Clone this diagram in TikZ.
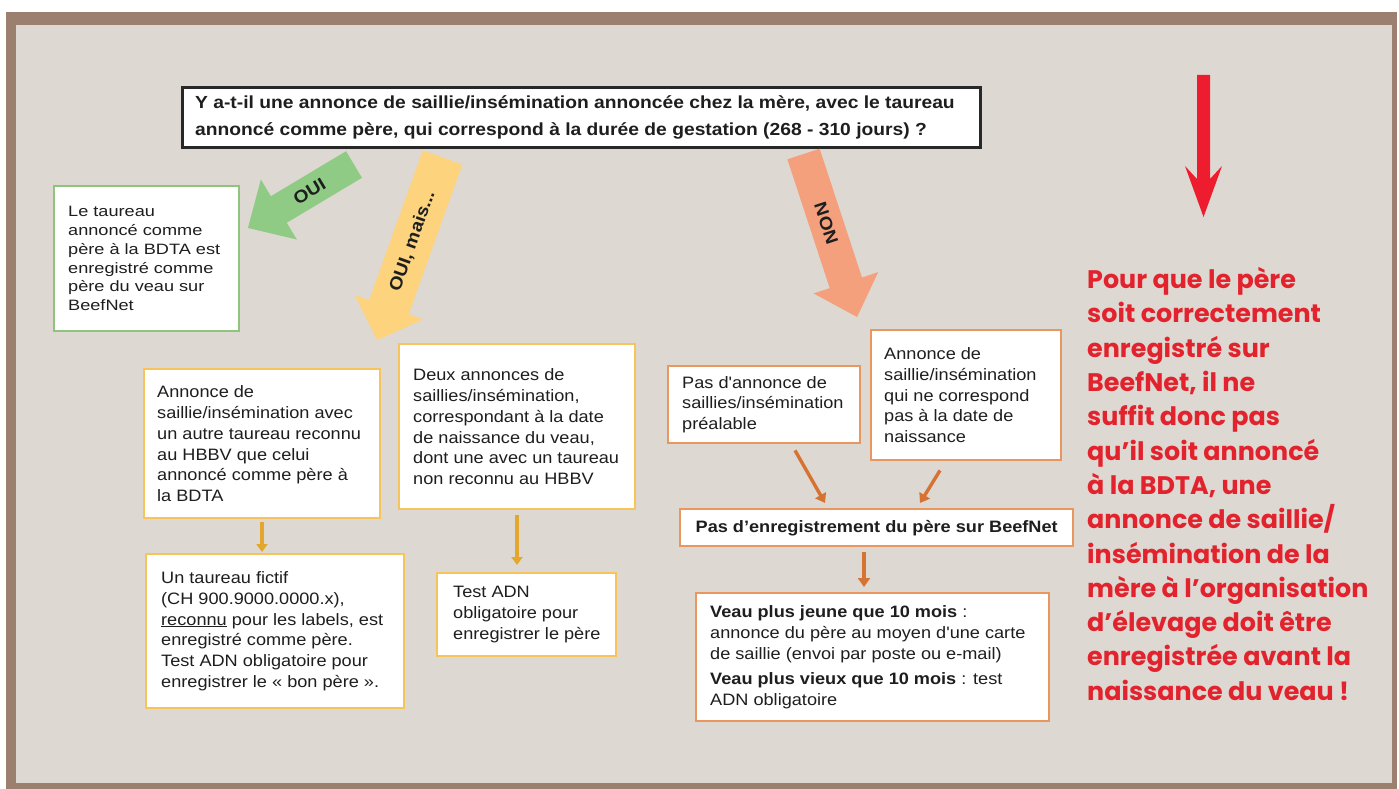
\documentclass[tikz,border=0pt]{standalone}
\usepackage{fontspec}
\usetikzlibrary{arrows.meta,calc}
\setmainfont{Liberation Sans}
\newfontfamily\ffbody[FakeStretch=1.1]{Liberation Sans}
\newfontfamily\ffgreen[FakeStretch=1.21]{Liberation Sans}
\newfontfamily\ffred{Poppins}
\definecolor{framebrown}{RGB}{155,128,111}
\definecolor{bgbeige}{RGB}{222,216,210}
\definecolor{gfill}{RGB}{143,203,133}
\definecolor{gborder}{RGB}{143,196,125}
\definecolor{yfill}{RGB}{253,211,125}
\definecolor{yborder}{RGB}{247,196,92}
\definecolor{yarrow}{RGB}{226,167,44}
\definecolor{sfill}{RGB}{245,160,125}
\definecolor{oborder}{RGB}{233,150,95}
\definecolor{oarrow}{RGB}{214,115,50}
\definecolor{redarrow}{RGB}{237,28,46}
\definecolor{redtext}{RGB}{226,35,45}
\definecolor{qborder}{RGB}{40,40,40}
\definecolor{txt}{RGB}{30,30,30}
\tikzset{
  bx/.style={rectangle, draw, fill=white, line width=2.4pt, anchor=north west, inner sep=0pt},
  gbx/.style={bx, draw=gborder},
  ybx/.style={bx, draw=yborder},
  obx/.style={bx, draw=oborder},
  btext/.style={anchor=west, inner sep=0pt, align=left, text=txt,
    font=\ffbody\fontsize{16.5}{20.8}\selectfont},
  gtext/.style={btext, font=\ffgreen\fontsize{15}{18.8}\selectfont},
  yarr/.style={draw=yarrow, line width=3.2pt, -{Triangle[width=11pt,length=8pt]}},
  oarr/.style={draw=oarrow, line width=3.4pt, -{Triangle[width=12pt,length=9pt]}},
  alabel/.style={font=\ffbody\bfseries\fontsize{17.5}{19}\selectfont, text=txt, transform shape, inner sep=0pt},
}
% block arrow in local frame: length L, shaft width w, head width hw, head length hl
\newcommand\blockarrowshape[4]{(0,-#2/2) -- (#1-#4,-#2/2) -- (#1-#4,-#3/2) -- (#1,0) -- (#1-#4,#3/2) -- (#1-#4,#2/2) -- (0,#2/2) -- cycle}
\begin{document}
\begin{tikzpicture}[x=1pt,y=-1pt]
\useasboundingbox (0,0) rectangle (1399,789);
\fill[white] (0,0) rectangle (1399,789);
\fill[framebrown] (6,12) rectangle (1397,789);
\fill[bgbeige] (16,25) rectangle (1392,783);

% question box
\node[bx, draw=qborder, line width=2.6pt, minimum width=798pt, minimum height=60pt] (q) at (181,86) {};
\node[btext, font=\ffbody\bfseries\fontsize{17.5}{27}\selectfont] (qt) at ($(q.west)+(14,0)$)
  {Y a-t-il une annonce de saillie/insémination annoncée chez la mère, avec le taureau\\
   annoncé comme père, qui correspond à la durée de gestation (268 - 310 jours) ?};

% big block arrows
\begin{scope}[shift={(354,164.5)}, rotate=-149.1]
  \fill[gfill] \blockarrowshape{123.6}{31}{70}{36};
  \node[alabel, rotate=180] (lOui) at (52,0) {OUI};
\end{scope}
\begin{scope}[shift={(442.5,157.5)}, rotate=-109.7]
  \fill[yfill] \blockarrowshape{193.9}{42}{73}{35};
  \node[alabel, rotate=180] (lOuiMais) at (89,0) {OUI, mais...};
\end{scope}
\begin{scope}[shift={(803.5,154)}, rotate=-71.8]
  \fill[sfill] \blockarrowshape{171.6}{34}{68}{36};
  \node[alabel] (lNon) at (73,0) {NON};
\end{scope}

% green result
\node[gbx, minimum width=185pt, minimum height=145pt] (g1) at (53,185) {};
\node[gtext] (g1t) at ($(g1.west)+(15,0)$)
  {Le taureau\\annoncé comme\\père à la BDTA est\\enregistré comme\\père du veau sur\\BeefNet};

% yellow branch
\node[ybx, minimum width=236pt, minimum height=149pt] (y1) at (143,368) {};
\node[btext] (y1t) at ($(y1.west)+(14,0)$)
  {Annonce de\\saillie/insémination avec\\un autre taureau reconnu\\au HBBV que celui\\annoncé comme père à\\la BDTA};
\node[ybx, minimum width=236pt, minimum height=165pt] (y2) at (398,343) {};
\node[btext] (y2t) at ($(y2.west)+(15,0)$)
  {Deux annonces de\\saillies/insémination,\\correspondant à la date\\de naissance du veau,\\dont une avec un taureau\\non reconnu au HBBV};
\node[ybx, minimum width=258pt, minimum height=154pt] (y3) at (145,553) {};
\node[btext] (y3t) at ($(y3.west)+(16,0)$)
  {Un taureau fictif\\(CH 900.9000.0000.x),\\\underline{reconnu} pour les labels, est\\enregistré comme père.\\Test ADN obligatoire pour\\enregistrer le « bon père ».};
\node[ybx, minimum width=179pt, minimum height=83pt] (y4) at (436,572) {};
\node[btext] (y4t) at ($(y4.west)+(17,0)$)
  {Test ADN\\obligatoire pour\\enregistrer le père};

\draw[yarr] ($(y1.south west)+(119,3)$) -- ($(y3.north west)+(117,-1)$);
\draw[yarr] ($(y2.south west)+(119,5)$) -- ($(y4.north west)+(81,-7)$);

% orange branch
\node[obx, minimum width=192pt, minimum height=77pt] (oa) at (667,365) {};
\node[btext] (oat) at ($(oa.west)+(15,0)$)
  {Pas d'annonce de\\saillies/insémination\\préalable};
\node[obx, minimum width=190pt, minimum height=130pt] (ob) at (870,329) {};
\node[btext] (obt) at ($(ob.west)+(14,0)$)
  {Annonce de\\saillie/insémination\\qui ne correspond\\pas à la date de\\naissance};
\node[obx, minimum width=393pt, minimum height=37pt] (oc) at (679,508) {};
\node[btext, anchor=center, align=center, font=\ffbody\bfseries\fontsize{16.5}{20}\selectfont] (oct) at (oc.center)
  {Pas d’enregistrement du père sur BeefNet};
\node[obx, minimum width=353pt, minimum height=128pt] (od) at (695,592) {};
\node[btext] (odt) at ($(od.west)+(15,0)$)
  {\textbf{Veau plus jeune que 10 mois} :\\annonce du père au moyen d'une carte\\de saillie (envoi par poste ou e-mail)\\[4pt]\textbf{Veau plus vieux que 10 mois} : test\\ADN obligatoire};

\draw[oarr] ($(oa.south west)+(128,6)$) -- ($(oc.north west)+(146,-5)$);
\draw[oarr] ($(ob.south west)+(70,9)$) -- ($(oc.north west)+(241,-5)$);
\draw[oarr] ($(oc.south west)+(185,5)$) -- ($(od.north west)+(169,-5)$);

% red note
\fill[redarrow] (1197,75) -- (1210,75) -- (1210,179) -- (1222,166) -- (1203.5,217)
  -- (1185,166) -- (1197,179) -- cycle;
\node[anchor=west, align=left, inner sep=0pt, text=redtext,
  font=\ffred\bfseries\fontsize{25.4}{34.3}\selectfont] (note) at (1087,484)
  {Pour que le père\\soit correctement\\enregistré sur\\BeefNet, il ne\\suffit donc pas\\qu’il soit annoncé\\à la BDTA, une\\annonce de saillie/\\insémination de la\\mère à l’organisation\\d’élevage doit être\\enregistrée avant la\\naissance du veau !};
\end{tikzpicture}
\end{document}
